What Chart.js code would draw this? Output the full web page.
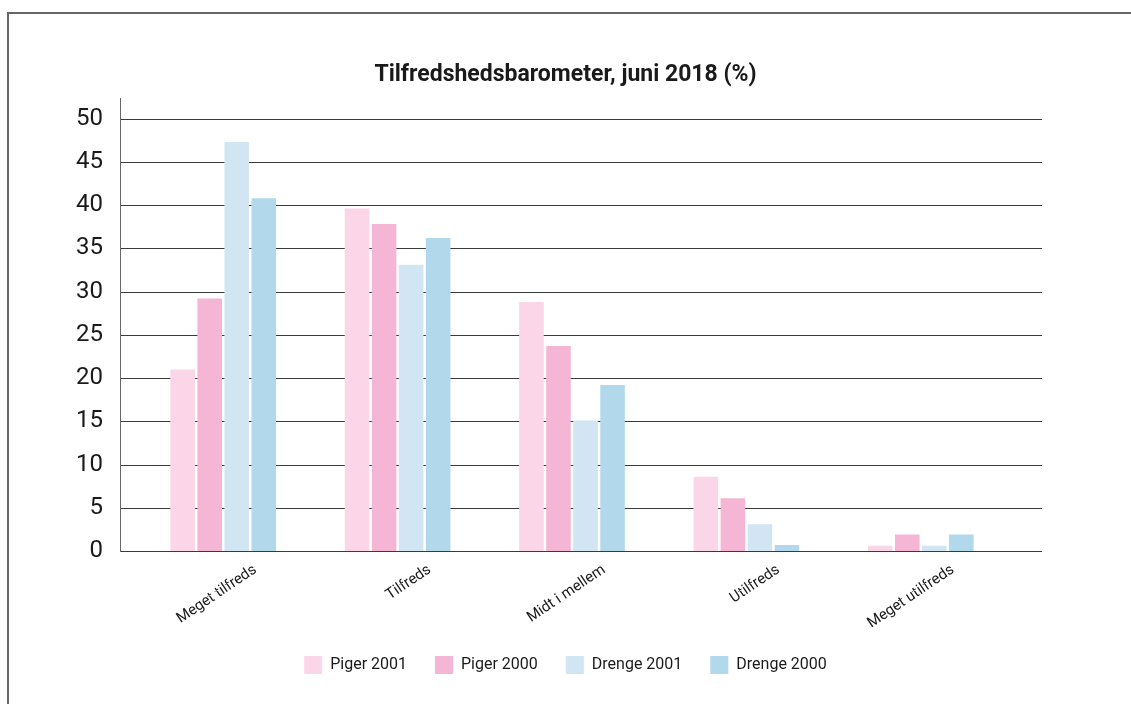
<!DOCTYPE html>
<html>
<head>
<meta charset="utf-8">
<script src="https://cdn.jsdelivr.net/npm/chart.js@4/dist/chart.umd.min.js"></script>
<style>
  body { margin: 0; background: #fff; }
  #frame { position: absolute; left: 7px; top: 12px; width: 1200px; height: 800px;
           border-left: 2px solid #666; border-top: 2px solid #666; }
  #wrap { position: absolute; left: 0; top: 0; width: 1131px; height: 704px; }
</style>
</head>
<body>
<div id="frame"></div>
<div id="wrap"><canvas id="myChart" width="1131" height="704"></canvas></div>
<script>
const categories = ["Meget tilfreds", "Tilfreds", "Midt i mellem", "Utilfreds", "Meget utilfreds"]
const piger2001 = [21, 39.6, 28.8, 8.6, 0.6]
const piger2000 = [29.2, 37.8, 23.7, 6.1, 1.9]
const drenge2001 = [47.3, 33.1, 15.1, 3.1, 0.6]
const drenge2000 = [40.8, 36.2, 19.2, 0.7, 1.9]
const yTicks = [0, 5, 10, 15, 20, 25, 30, 35, 40, 45, 50]

const font = "Roboto, 'Liberation Sans', sans-serif"

// grid lines run wider than the bar area, so draw them from the y scale
const gridPlugin = {
    id: "wideGrid",
    beforeDatasetsDraw(chart) {
        const ctx = chart.ctx
        const y = chart.scales.y
        ctx.save()
        ctx.strokeStyle = "#3a3a3a"
        ctx.lineWidth = 1
        yTicks.forEach((v) => {
            const py = Math.round(y.getPixelForValue(v)) + 0.5
            ctx.beginPath()
            ctx.moveTo(120, py)
            ctx.lineTo(1042, py)
            ctx.stroke()
        })
        ctx.strokeStyle = "#666"
        ctx.beginPath()
        ctx.moveTo(120.5, 98)
        ctx.lineTo(120.5, Math.round(y.getPixelForValue(0)) + 1)
        ctx.stroke()
        ctx.restore()
    }
}

const ctx = document.getElementById("myChart")
new Chart(ctx, {
    type: "bar",
    data: {
        labels: categories,
        datasets: [
            { label: "Piger 2001", data: piger2001, backgroundColor: "#fbd6e8" },
            { label: "Piger 2000", data: piger2000, backgroundColor: "#f5b6d6" },
            { label: "Drenge 2001", data: drenge2001, backgroundColor: "#d2e5f3" },
            { label: "Drenge 2000", data: drenge2000, backgroundColor: "#b1d9eb" }
        ]
    },
    options: {
        responsive: false,
        animation: false,
        layout: { padding: { top: 0, left: 0, right: 0, bottom: 20 } },
        datasets: {
            bar: { categoryPercentage: 0.62, barPercentage: 0.91 }
        },
        plugins: {
            title: {
                display: true,
                text: "Tilfredshedsbarometer, juni 2018 (%)",
                color: "#1a1a1a",
                font: { family: font, size: 23, weight: "bold" },
                padding: { top: 61, bottom: 30 }
            },
            legend: {
                position: "bottom",
                labels: {
                    color: "#1a1a1a",
                    font: { family: font, size: 16 },
                    boxWidth: 18,
                    boxHeight: 18,
                    padding: 28
                }
            },
            tooltip: { enabled: false }
        },
        scales: {
            x: {
                grid: { display: false },
                border: { display: false },
                ticks: {
                    color: "#1a1a1a",
                    font: { family: font, size: 15 },
                    minRotation: 34,
                    maxRotation: 34,
                    padding: 2,
                    labelOffset: 32
                },
                afterFit: (s) => { s.height = 77 }
            },
            y: {
                min: 0,
                max: 50,
                grid: { display: false, drawTicks: false },
                border: { display: false },
                ticks: {
                    stepSize: 5,
                    color: "#1a1a1a",
                    font: { family: font, size: 24 },
                    padding: 33
                },
                afterFit: (s) => { s.width = 136 }
            },
            y2: {
                position: "right",
                display: true,
                grid: { display: false, drawTicks: false },
                border: { display: false },
                ticks: { display: false },
                afterFit: (s) => { s.width = 123 }
            }
        }
    },
    plugins: [gridPlugin]
})
</script>
</body>
</html>
